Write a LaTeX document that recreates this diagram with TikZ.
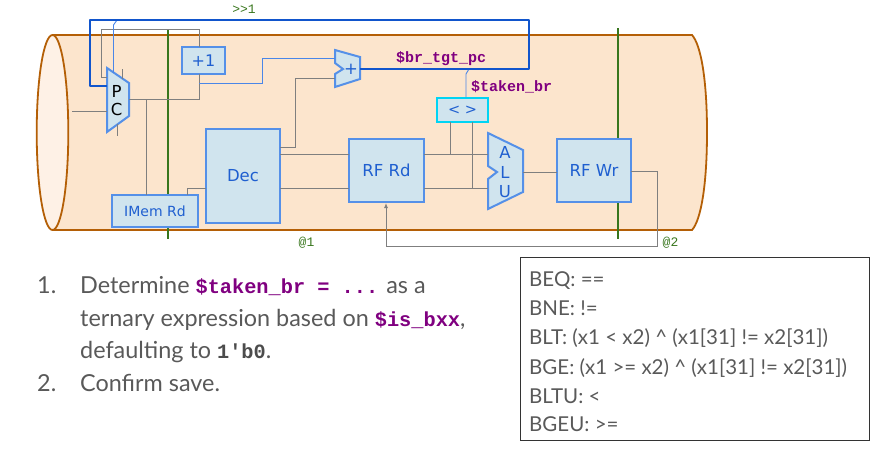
\documentclass[tikz,border=0pt]{standalone}
\usepackage{fontspec}
\setmainfont{Lato}
\setsansfont{DejaVu Sans}
\setmonofont{Liberation Mono}
\usetikzlibrary{arrows.meta}
\definecolor{pipe}{HTML}{FCE5CD}
\definecolor{pipeedge}{HTML}{B45F06}
\definecolor{capfill}{HTML}{FEF1E6}
\definecolor{boxfill}{HTML}{D0E4EE}
\definecolor{boxedge}{HTML}{5590E8}
\definecolor{boxtext}{HTML}{1F5FD0}
\definecolor{thickblue}{HTML}{1155CC}
\definecolor{thinblue}{HTML}{4A86E8}
\definecolor{wire}{HTML}{7F7F7F}
\definecolor{stage}{HTML}{38761D}
\definecolor{sig}{HTML}{800080}
\definecolor{body}{HTML}{595959}
\definecolor{cyanedge}{HTML}{00D4F4}
\tikzset{
  x=1pt,y=-1pt,
  block/.style={draw=boxedge,fill=boxfill,line width=2pt,outer sep=0pt,text=boxtext,font=\sffamily\fontsize{16.5}{18}\selectfont,inner sep=0pt,anchor=north west},
  muxshape/.style={draw=boxedge,fill=boxfill,line width=2pt},
  greywire/.style={draw=wire,line width=0.9pt},
  bluewire/.style={draw=thinblue,line width=0.9pt},
  thickwire/.style={draw=thickblue,line width=2pt,line join=round},
  stageline/.style={draw=stage,line width=1.5pt},
  sigtext/.style={text=sig,font=\ttfamily\bfseries\fontsize{15}{16}\selectfont,inner sep=0pt},
  stagetext/.style={text=stage,font=\ttfamily\fontsize{13}{14}\selectfont,inner sep=0pt},
  bodytext/.style={text=body,font=\fontsize{23.4}{28}\selectfont,inner sep=0pt,anchor=base west},
  paneltext/.style={text=body,font=\fontsize{20.5}{24}\selectfont,inner sep=0pt,anchor=base west},
  muxlabel/.style={inner sep=0pt,font=\sffamily\fontsize{16.5}{18}\selectfont},
}
\newcommand{\bigsig}[1]{{\color{sig}\ttfamily\bfseries\fontsize{20.3}{22}\selectfont #1}}
\begin{document}
\begin{tikzpicture}
\useasboundingbox (0,0) rectangle (872,451);
% pipeline body
\path[fill=pipe,draw=pipeedge,line width=1.8pt] (53,35) -- (692,35) .. controls (701,45) and (707,80) .. (707,132) .. controls (707,185) and (701,220) .. (692,230) -- (53,230);
\path[fill=capfill,draw=pipeedge,line width=1.8pt] (52.5,132.5) ellipse [x radius=15.8,y radius=97.5];
% stage lines
\coordinate (s1t) at (168,29); \coordinate (s1b) at (168,239);
\coordinate (s2t) at (618,28); \coordinate (s2b) at (618,239);
\draw[stageline] (s1t) -- (s1b);
\draw[stageline] (s2t) -- (s2b);
% blocks
\node[block,minimum width=43pt,minimum height=27pt,font=\sffamily\fontsize{16}{18}\selectfont] (inc) at (182,47) {\raisebox{-1pt}{+1}};
\node[block,minimum width=74pt,minimum height=94pt] (dec) at (206,129) {\raisebox{-1pt}{Dec}};
\node[block,minimum width=86pt,minimum height=32pt,font=\sffamily\fontsize{14}{16}\selectfont] (imem) at (112,195) {\raisebox{-1pt}{IMem Rd}};
\node[block,minimum width=75pt,minimum height=63pt] (rfrd) at (349,139) {\raisebox{-1pt}{RF Rd}};
\node[block,minimum width=74pt,minimum height=63pt] (rfwr) at (557,139) {\raisebox{-1pt}{RF Wr}};
\node[block,draw=cyanedge,minimum width=51pt,minimum height=24pt,font=\sffamily\fontsize{14.5}{16}\selectfont] (cmp) at (437,98) {< >};
% muxes
\draw[muxshape] (107,68) -- (129,83) -- (129,116) -- (107,132) -- cycle;
\coordinate (pcL) at (107,86); \coordinate (pcIn) at (107,111); \coordinate (pcR) at (129,99);
\draw[muxshape] (335,50) -- (360,57) -- (360,79) -- (335,87) -- (335,74) -- (343,69) -- (335,63) -- cycle;
\coordinate (addR) at (360,69); \coordinate (addA) at (335,58); \coordinate (addB) at (335,78);
\draw[muxshape] (488,133) -- (523,150) -- (523,192) -- (488,209) -- (488,179) -- (497,172) -- (488,166) -- cycle;
\coordinate (aluR) at (523,172); \coordinate (aluA) at (488,154); \coordinate (aluB) at (488,188);
\node[muxlabel] (pcp) at (116.7,91) {P};
\node[muxlabel] (pcc) at (116.7,109.5) {C};
\node[muxlabel,text=boxtext] (addl) at (351,69) {+};
\node[muxlabel,text=boxtext] (alua) at (505,152) {A};
\node[muxlabel,text=boxtext] (alul) at (505,172) {L};
\node[muxlabel,text=boxtext] (aluu) at (505,192) {U};
% wires
\coordinate (pcI) at (72,111);
\draw[greywire] (pcI) -- (pcIn);
\draw[greywire] (pcR) -- (199,99) -- (199,74);
\draw[greywire] (199,47) -- (199,29) -- (101,29) -- (101,77) -- (107,77);
\draw[greywire] (146,99) -- (146,195);
\draw[greywire] (122.7,69) -- (122.7,79);
\draw[greywire] (117.7,124) -- (117.7,136);
\draw[bluewire] (199,83) -- (262,83) -- (262,58) -- (addA);
\draw[greywire] (280,147) -- (295.7,147) -- (295.7,78) -- (addB);
\draw[greywire] (187,195) -- (187,188) -- (206,188);
\draw[greywire] (280,154) -- (349,154);
\draw[greywire] (280,188) -- (349,188);
\draw[greywire] (424,154) -- (aluA);
\draw[greywire] (424,188) -- (aluB);
\draw[greywire] (450,122) -- (450,154);
\draw[greywire] (472,122) -- (472,188);
\draw[greywire] (aluR) -- (557,172);
\draw[greywire,-{Latex[length=5pt,width=4pt]}] (631,171) -- (657,171) -- (657,246) -- (386,246) -- (386,203);
\draw[bluewire] (113.5,73) -- (113.5,25) -- (116.7,20.5);
\draw[bluewire] (466,97) -- (466,74) -- (469,69);
\draw[thickwire] (pcL) -- (90,86) -- (90,20) -- (529,20) -- (529,69) -- (addR);
% labels
\node[sigtext,anchor=west] (l1) at (396,59) {\$br\_tgt\_pc};
\node[sigtext,anchor=west] (l2) at (471,87) {\$taken\_br};
\node[stagetext] (l3) at (244,9) {>>1};
\node[stagetext] (l4) at (306.5,243) {@1};
\node[stagetext] (l5) at (670.5,243) {@2};
% instructions
\node[bodytext] (n1) at (37,293) {1.};
\node[bodytext] (t1) at (80,293) {Determine \bigsig{\$taken\_br = ...} as a};
\node[bodytext] (t2) at (80,326) {ternary expression based on \bigsig{\$is\_bxx},};
\node[bodytext] (t3) at (80,358) {defaulting to {\color{black!70}\ttfamily\bfseries\fontsize{20.3}{22}\selectfont 1'b0}.};
\node[bodytext] (n2) at (37,391) {2.};
\node[bodytext] (t4) at (80,391) {Confirm save.};
% panel
\node[draw=black!80,line width=1pt,minimum width=349pt,minimum height=183pt,anchor=north west,inner sep=0pt,outer sep=0pt] (panel) at (520,257) {};
\node[paneltext] (p1) at (529,286) {BEQ: ==};
\node[paneltext] (p2) at (529,315) {BNE: !=};
\node[paneltext] (p3) at (529,344) {BLT: (x1 < x2) \^{} (x1[31] != x2[31])};
\node[paneltext] (p4) at (529,374) {BGE: (x1 >= x2) \^{} (x1[31] != x2[31])};
\node[paneltext] (p5) at (529,403) {BLTU: <};
\node[paneltext] (p6) at (529,431) {BGEU: >=};
\end{tikzpicture}
\end{document}
